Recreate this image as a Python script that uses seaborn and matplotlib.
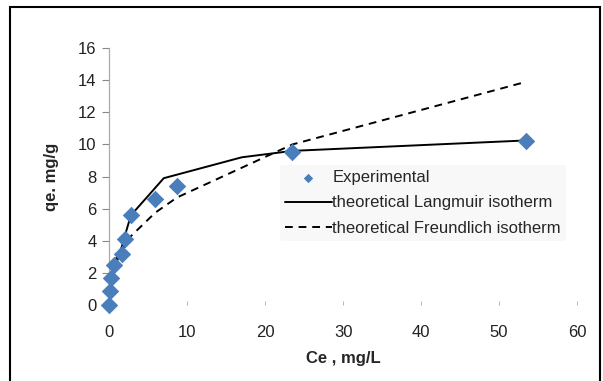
import matplotlib
matplotlib.use('Agg')

import matplotlib.pyplot as plt
import seaborn as sns
import pandas as pd
from matplotlib.patches import Rectangle

# experimental points
ce_exp = [0, 0.1, 0.25, 0.6, 1.6, 2.0, 2.8, 5.9, 8.7, 23.5, 53.5]
qe_exp = [0, 0.9, 1.7, 2.5, 3.2, 4.1, 5.6, 6.6, 7.4, 9.55, 10.2]

# theoretical Langmuir curve (vertices)
ce_lang = [0, 0.25, 0.6, 1.6, 2.0, 2.8, 5.0, 7.0, 17.0, 23.5, 53.5]
qe_lang = [0, 1.6, 2.6, 3.6, 4.3, 5.6, 6.8, 7.9, 9.2, 9.6, 10.25]

# theoretical Freundlich curve
ce_freu = [0, 0.1, 0.25, 0.6, 1.6, 2.0, 2.8, 5.9, 8.7, 23.5, 53.5]
qe_freu = [0, 1.1, 1.6, 2.3, 3.4, 3.7, 4.3, 5.75, 6.7, 10.0, 13.9]

x_ticks = [0, 10, 20, 30, 40, 50, 60]
y_ticks = [0, 2, 4, 6, 8, 10, 12, 14, 16]


def main():
    sns.set_style('white')
    plt.rcParams['font.family'] = ['Liberation Sans', 'DejaVu Sans']

    exp = pd.DataFrame({'ce': ce_exp, 'qe': qe_exp})
    lang = pd.DataFrame({'ce': ce_lang, 'qe': qe_lang})
    freu = pd.DataFrame({'ce': ce_freu, 'qe': qe_freu})

    fig = plt.figure(figsize=(6.03, 3.81), dpi=100)
    ax = fig.add_axes([0.181, 0.199, 0.776, 0.675])

    sns.lineplot(data=lang, x='ce', y='qe', sort=False, estimator=None, color='black',
                 linewidth=1.4, label='theoretical Langmuir isotherm', ax=ax, zorder=2)
    sns.lineplot(data=freu, x='ce', y='qe', sort=False, estimator=None, color='black',
                 linewidth=1.4, linestyle=(0, (4, 3)), label='theoretical Freundlich isotherm',
                 ax=ax, zorder=2)
    sns.scatterplot(data=exp, x='ce', y='qe', marker='D', s=68, color='#4a7ebb',
                    edgecolor='#4a7ebb', label='Experimental', ax=ax, zorder=3, clip_on=False)

    ax.set_xlim(0, 60)
    ax.set_ylim(0, 16)
    ax.set_xticks(x_ticks)
    ax.set_yticks(y_ticks)
    ax.tick_params(axis='both', labelsize=12, labelcolor='#222222', left=True, bottom=True)
    ax.tick_params(axis='y', length=5, width=0.8, color='#888888', direction='out', pad=4)
    ax.tick_params(axis='x', length=3, width=0.6, color='#aaaaaa', direction='in', pad=14)
    for s in ['top', 'right', 'bottom']:
        ax.spines[s].set_visible(False)
    ax.spines['left'].set_color('#aaaaaa')
    ax.spines['left'].set_linewidth(0.9)
    ax.set_xlabel('Ce , mg/L', fontsize=12, fontweight='bold', labelpad=8)
    ax.set_ylabel('qe. mg/g', fontsize=12, fontweight='bold', labelpad=14)

    handles, labels = ax.get_legend_handles_labels()
    order = [2, 0, 1]
    leg = ax.legend([handles[i] for i in order], [labels[i] for i in order],
                    loc='upper left', bbox_to_anchor=(0.365, 0.545), fontsize=12,
                    frameon=True, facecolor='#f8f8f8', edgecolor='none', framealpha=1,
                    handlelength=2.8, handletextpad=0.05, labelspacing=0.62, borderpad=0.3,
                    borderaxespad=0, markerscale=0.5)
    leg.set_zorder(1)

    fig.patches.append(Rectangle((10 / 603, -0.05), 590 / 603, 1.05 - 7 / 381,
                                 transform=fig.transFigure, fill=False,
                                 edgecolor='black', linewidth=1.5))

    fig.savefig('out.png', dpi=100)


if __name__ == "__main__":
    main()
